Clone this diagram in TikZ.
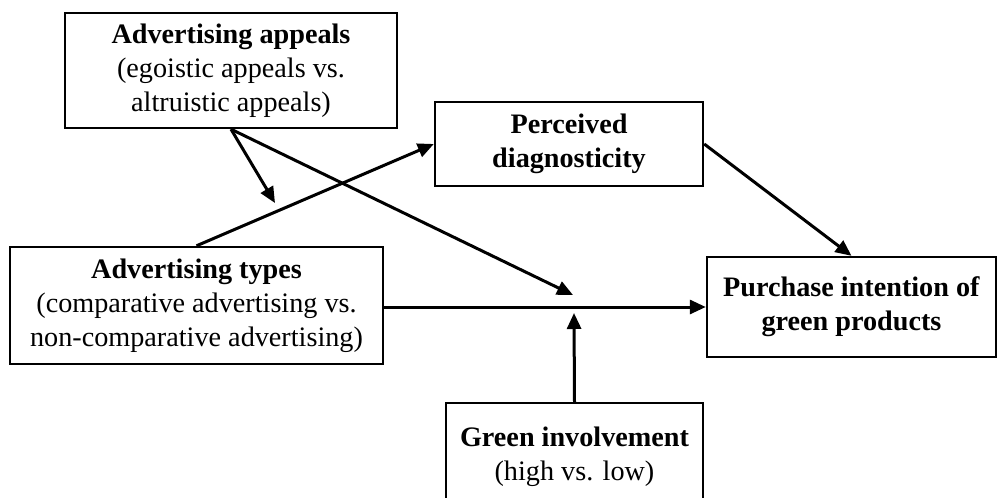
\documentclass[tikz,border=0pt]{standalone}
\usepackage{fontspec}
\setmainfont{Liberation Serif}
\usetikzlibrary{arrows.meta}

\begin{document}
\begin{tikzpicture}[x=1pt, y=-1pt, >={Triangle[length=16pt,width=14pt]},
    varbox/.style={draw, line width=2.4pt, align=center, inner sep=0pt,
                   font=\fontsize{28.2}{34}\selectfont},
    link/.style={->, line width=3pt}]
    \useasboundingbox (0,0) rectangle (997,498);
    \node[varbox, minimum width=332pt, minimum height=115pt] (appeals) at (231,70.5)
        {\textbf{Advertising appeals}\\(egoistic appeals vs.\\altruistic appeals)};
    \node[varbox, minimum width=268pt, minimum height=84pt] (diag) at (569,144)
        {\textbf{Perceived}\\\textbf{diagnosticity}};
    \node[varbox, minimum width=373pt, minimum height=117pt] (types) at (196.5,305.5)
        {\textbf{Advertising types}\\(comparative advertising vs.\\non-comparative advertising)};
    \node[varbox, minimum width=289pt, minimum height=100pt] (purchase) at (851.5,307)
        {\textbf{Purchase intention of}\\\textbf{green products}};
    \node[varbox, minimum width=257pt, minimum height=107pt] (involve) at (574.5,456.5)
        {\textbf{Green involvement}\\(high vs. low)};
    \coordinate (modA) at (275,203);   %moderation on types -> diagnosticity
    \coordinate (modB) at (573,295);   %moderation on types -> purchase, from above
    \coordinate (modC) at (574,313);   %moderation on types -> purchase, from below
    \draw[link] (appeals.south) -- (modA);
    \draw[link] (appeals.south) -- (modB);
    \draw[link] (types.north) -- (diag.west);
    \draw[link] (diag.east) -- (purchase.north);
    \draw[link] (types.east |- purchase.west) -- (purchase.west);   %main effect
    \draw[link] (involve.north) -- (modC);
\end{tikzpicture}
\end{document}
